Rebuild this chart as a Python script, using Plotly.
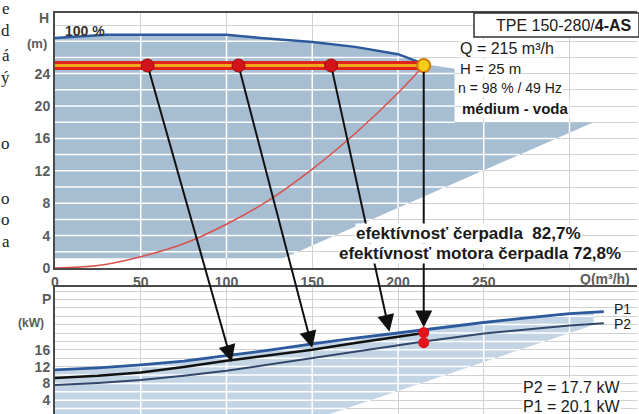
import numpy as np
import plotly.graph_objects as go

# ---------------------------------------------------------------- data
# Pump curve at 100 % speed (Q in m3/h, H in m)
pump_q = [0, 15, 30, 60, 100, 120, 150, 175, 200, 215]
pump_h = [28.4, 28.6, 28.8, 28.8, 28.8, 28.4, 27.9, 27.3, 26.4, 25.2]

# Operating range of the pump (shaded area in the H-Q diagram)
range_q = pump_q + [233, 233, 314, 133, 0]
range_h = pump_h + [24.6, 18.0, 18.0, 1.2, 1.2]

# System curve
system_q = [0, 25, 50, 75, 100, 125, 150, 175, 200, 215]
system_h = [0, 0.3, 1.4, 3.0, 5.4, 8.4, 12.2, 16.6, 21.6, 25.0]

# Duty point and part-load points on the constant-head line
duty_q, duty_h = 215, 25
part_q = [54, 107, 161]

# Power curves (Q in m3/h, P in kW)
p1_q = [0, 25, 50, 75, 100, 125, 150, 175, 200, 215, 250, 275, 300, 320]
p1_p = [11.2, 11.7, 12.4, 13.3, 14.6, 15.9, 17.4, 18.8, 20.0, 20.8, 22.5, 23.6, 24.6, 25.1]
p2_q = [0, 25, 50, 75, 100, 125, 150, 175, 200, 215, 250, 275, 300, 320]
p2_p = [7.6, 8.1, 8.8, 9.8, 11.0, 12.5, 14.0, 15.6, 17.1, 18.0, 19.9, 20.9, 21.8, 22.3]
ctrl_q = [0, 25, 50, 75, 100, 125, 150, 175, 200, 215]
ctrl_p = [9.3, 9.8, 10.6, 11.9, 13.4, 14.7, 16.0, 17.6, 19.2, 20.0]

# Power range limits (shaded area in the P-Q diagram)
power_edge_q = 314
power_low_q = [314, 155, 0]
power_low_p = [21.9, 0.0, 0.0]

# Power at the duty point
duty_p1, duty_p2 = 20.1, 17.7

# Arrows from the H-Q diagram to the power curves
arrow_from_q = [54, 107, 161, 215]
arrow_to_q = [103, 150, 195, 215]
arrow_to_p = [13.1, 16.4, 20.3, 20.1]

h_ticks = [0, 4, 8, 12, 16, 20, 24]
p_ticks = [0, 4, 8, 12, 16]
q_ticks = [0, 50, 100, 150, 200, 250]
q_grid = [50, 100, 150, 200, 250, 300]

# ---------------------------------------------------------------- layout geometry
W, HGT = 639, 414
M_L, M_R, M_T, M_B = 55, 2, 13, 0
PW, PH = W - M_L - M_R, HGT - M_T - M_B


def px_x(x):
    return (x - M_L) / PW


def px_y(y):
    return (HGT - M_B - y) / PH


TOP_DOM = [px_y(268), 1.0]
BOT_DOM = [0.0, px_y(287)]
Q_RANGE = [0, PW / 1.715]
H_RANGE = [0, (268 - 13) / 8.1]
P_RANGE = [(417 - 414) / 4.2, (417 - 287) / 4.2]


def h_as_p(h):
    """Express a head value of the upper diagram in the power axis units."""
    paper = TOP_DOM[0] + (h - H_RANGE[0]) / (H_RANGE[1] - H_RANGE[0]) * (TOP_DOM[1] - TOP_DOM[0])
    return P_RANGE[0] + (paper - BOT_DOM[0]) / (BOT_DOM[1] - BOT_DOM[0]) * (P_RANGE[1] - P_RANGE[0])


def inside_segments(poly_x, poly_y, value, horizontal=True):
    """Parts of a grid line that fall inside a polygon."""
    cuts = []
    n = len(poly_x)
    for i in range(n):
        x1, y1 = poly_x[i], poly_y[i]
        x2, y2 = poly_x[(i + 1) % n], poly_y[(i + 1) % n]
        if horizontal:
            c1, c2, o1, o2 = y1, y2, x1, x2
        else:
            c1, c2, o1, o2 = x1, x2, y1, y2
        if (c1 <= value < c2) or (c2 <= value < c1):
            t = (value - c1) / (c2 - c1)
            cuts.append(o1 + t * (o2 - o1))
    cuts.sort()
    return list(zip(cuts[0::2], cuts[1::2]))


def white_grid(poly_x, poly_y, h_values, v_values):
    xs, ys = [], []
    for v in h_values:
        for a, b in inside_segments(poly_x, poly_y, v, True):
            xs += [a, b, None]
            ys += [v, v, None]
    for v in v_values:
        for a, b in inside_segments(poly_x, poly_y, v, False):
            xs += [v, v, None]
            ys += [a, b, None]
    return xs, ys


FONT = "Liberation Sans, Arial, sans-serif"
SERIF = "Liberation Serif, Times New Roman, serif"
SHADE_TOP = "#a7bdd2"
SHADE_BOT = "#c3d4e5"
GRID = "#d2d2d2"
FRAME = "#4a4a4a"

fig = go.Figure()

# ---------------------------------------------------------------- H-Q diagram
fig.add_trace(go.Scatter(x=range_q, y=range_h, fill="toself", fillcolor=SHADE_TOP,
                         line=dict(width=0), mode="lines", hoverinfo="skip",
                         xaxis="x", yaxis="y"))
gx, gy = white_grid(range_q, range_h, list(range(2, 32, 2)), q_grid)
fig.add_trace(go.Scatter(x=gx, y=gy, mode="lines", line=dict(color="white", width=1.5),
                         hoverinfo="skip", xaxis="x", yaxis="y"))
fig.add_trace(go.Scatter(x=system_q, y=system_h, mode="lines",
                         line=dict(color="#d8514a", width=1.5, shape="spline"),
                         xaxis="x", yaxis="y"))
fig.add_trace(go.Scatter(x=pump_q, y=pump_h, mode="lines",
                         line=dict(color="#2d5a9c", width=2.5),
                         xaxis="x", yaxis="y"))
fig.add_trace(go.Scatter(x=[0, duty_q], y=[duty_h, duty_h], mode="lines",
                         line=dict(color="#e0241a", width=9),
                         xaxis="x", yaxis="y"))
fig.add_trace(go.Scatter(x=[0, duty_q], y=[duty_h, duty_h], mode="lines",
                         line=dict(color="#f2a81d", width=3),
                         xaxis="x", yaxis="y"))
fig.add_trace(go.Scatter(x=part_q, y=[duty_h] * len(part_q), mode="markers",
                         marker=dict(size=13, color="#d3141b", line=dict(color="#9c0c10", width=1)),
                         xaxis="x", yaxis="y"))
fig.add_trace(go.Scatter(x=[duty_q], y=[duty_h], mode="markers",
                         marker=dict(size=13, color="#f7cd1c", line=dict(color="#d27a06", width=2)),
                         xaxis="x", yaxis="y"))

# ---------------------------------------------------------------- P-Q diagram
edge_p1 = float(np.interp(power_edge_q, p1_q, p1_p))
shade_q = [q for q in p1_q if q < power_edge_q] + [power_edge_q] + power_low_q
shade_p = [p for q, p in zip(p1_q, p1_p) if q < power_edge_q] + [edge_p1] + power_low_p
fig.add_trace(go.Scatter(x=shade_q, y=shade_p, fill="toself", fillcolor=SHADE_BOT,
                         line=dict(width=0), mode="lines", hoverinfo="skip",
                         xaxis="x2", yaxis="y2"))
gx, gy = white_grid(shade_q, shade_p, list(range(2, 32, 2)), q_grid)
fig.add_trace(go.Scatter(x=gx, y=gy, mode="lines", line=dict(color="white", width=1.5),
                         hoverinfo="skip", xaxis="x2", yaxis="y2"))
fig.add_trace(go.Scatter(x=p2_q, y=p2_p, mode="lines",
                         line=dict(color="#33476a", width=2),
                         xaxis="x2", yaxis="y2"))
fig.add_trace(go.Scatter(x=ctrl_q, y=ctrl_p, mode="lines",
                         line=dict(color="#111111", width=2.5),
                         xaxis="x2", yaxis="y2"))
fig.add_trace(go.Scatter(x=p1_q, y=p1_p, mode="lines",
                         line=dict(color="#2d5a9c", width=2.8),
                         xaxis="x2", yaxis="y2"))
fig.add_trace(go.Scatter(x=[duty_q, duty_q], y=[duty_p1, duty_p2], mode="markers",
                         marker=dict(size=11, color="#e3151a"),
                         xaxis="x2", yaxis="y2"))

# ---------------------------------------------------------------- axes
tick_font = dict(family=FONT, size=14, color="#5c5c5c", weight="bold")
common = dict(ticks="", zeroline=False, fixedrange=True, automargin=False,
              showgrid=True, gridcolor=GRID, gridwidth=1,
              showline=True, linecolor=FRAME, linewidth=2)
fig.update_layout(
    width=W, height=HGT,
    margin=dict(l=M_L, r=M_R, t=M_T, b=M_B, autoexpand=False),
    paper_bgcolor="white", plot_bgcolor="white",
    showlegend=False,
    xaxis=dict(domain=[0, 1], range=Q_RANGE, anchor="y",
               tickmode="array", tickvals=q_ticks, tickfont=tick_font,
               minor=dict(tickmode="array", tickvals=[300], showgrid=True, gridcolor=GRID),
               mirror=True, **common),
    yaxis=dict(domain=TOP_DOM, range=H_RANGE, anchor="x",
               tickmode="array", tickvals=h_ticks, tickfont=tick_font,
               minor=dict(dtick=2, tick0=0, showgrid=True, gridcolor=GRID),
               **common),
    xaxis2=dict(domain=[0, 1], range=Q_RANGE, anchor="y2", side="top",
                tickmode="array", tickvals=q_grid, showticklabels=False,
                **common),
    yaxis2=dict(domain=BOT_DOM, range=P_RANGE, anchor="x2",
                tickmode="array", tickvals=p_ticks, tickfont=tick_font,
                minor=dict(dtick=2, tick0=0, showgrid=True, gridcolor=GRID),
                **common),
)

# ---------------------------------------------------------------- arrows
annotations = []
for fq, tq, tp in zip(arrow_from_q, arrow_to_q, arrow_to_p):
    annotations.append(dict(
        x=tq, y=tp, xref="x2", yref="y2",
        ax=fq, ay=h_as_p(duty_h), axref="x2", ayref="y2",
        text="", showarrow=True, arrowhead=2, arrowsize=1.7, arrowwidth=2,
        arrowcolor="#111111", startstandoff=5,
        standoff=5 if tq == duty_q else 0,
    ))


# ---------------------------------------------------------------- text
def label(text, x, y, xanchor="left", size=14, bold=False, color="#1a1a1a",
          family=FONT, bg=None):
    d = dict(text=text, x=px_x(x), y=px_y(y), xref="paper", yref="paper",
             xanchor=xanchor, yanchor="middle", showarrow=False,
             font=dict(family=family, size=size, color=color,
                       weight="bold" if bold else "normal"))
    if bg:
        d.update(bgcolor=bg, borderpad=0)
    return d


axis_grey = "#5c5c5c"
annotations += [
    label("H", 44, 18, "center", 14, True, axis_grey),
    label("(m)", 37, 43, "center", 13, True, axis_grey),
    label("P", 46, 299, "center", 14, True, axis_grey),
    label("(kW)", 31, 323, "center", 12, True, axis_grey),
    label("100 %", 63, 31, "left", 14, True, "#333333"),
    label("Q(m³/h)", 632, 279, "right", 14, True, axis_grey),
    label("Q = 215 m³/h", 459, 49, "left", 16, False, bg="white"),
    label("H = 25 m", 459, 69, "left", 15, False, bg="white"),
    label("n = 98 % / 49 Hz", 457, 88, "left", 14, False, bg="white"),
    label("médium - voda", 461, 108, "left", 15, True, bg="white"),
    label("efektívnosť čerpadla  82,7%", 468, 233, "center", 17, True, bg="white"),
    label("efektívnosť motora čerpadla 72,8%", 480, 253, "center", 17, True, bg="white"),
    label("P1", 612, 309, "left", 14, False),
    label("P2", 612, 324, "left", 14, False),
    label("P2 = 17.7 kW", 621, 387, "right", 16, False, bg="white"),
    label("P1 = 20.1 kW", 621, 406, "right", 16, False, bg="white"),
    label("TPE 150-280/<b>4-AS</b>", 634, 25, "right", 16, False),
]

# text column beside the chart
side_letters = ["e", "d", "á", "ý", "o", "o", "o", "a"]
side_rows = [9, 31, 55, 77, 143, 198, 220, 241]
for ch, row in zip(side_letters, side_rows):
    annotations.append(label(ch, 12, row, "right", 17, False, "#222222", SERIF))

fig.update_layout(annotations=annotations)

# frame around the pump type
fig.add_shape(type="rect", xref="paper", yref="paper",
              x0=px_x(474), x1=px_x(639), y0=px_y(37), y1=px_y(13),
              line=dict(color="#333333", width=1.5), fillcolor="white", layer="above")

fig.write_html("out.html")
